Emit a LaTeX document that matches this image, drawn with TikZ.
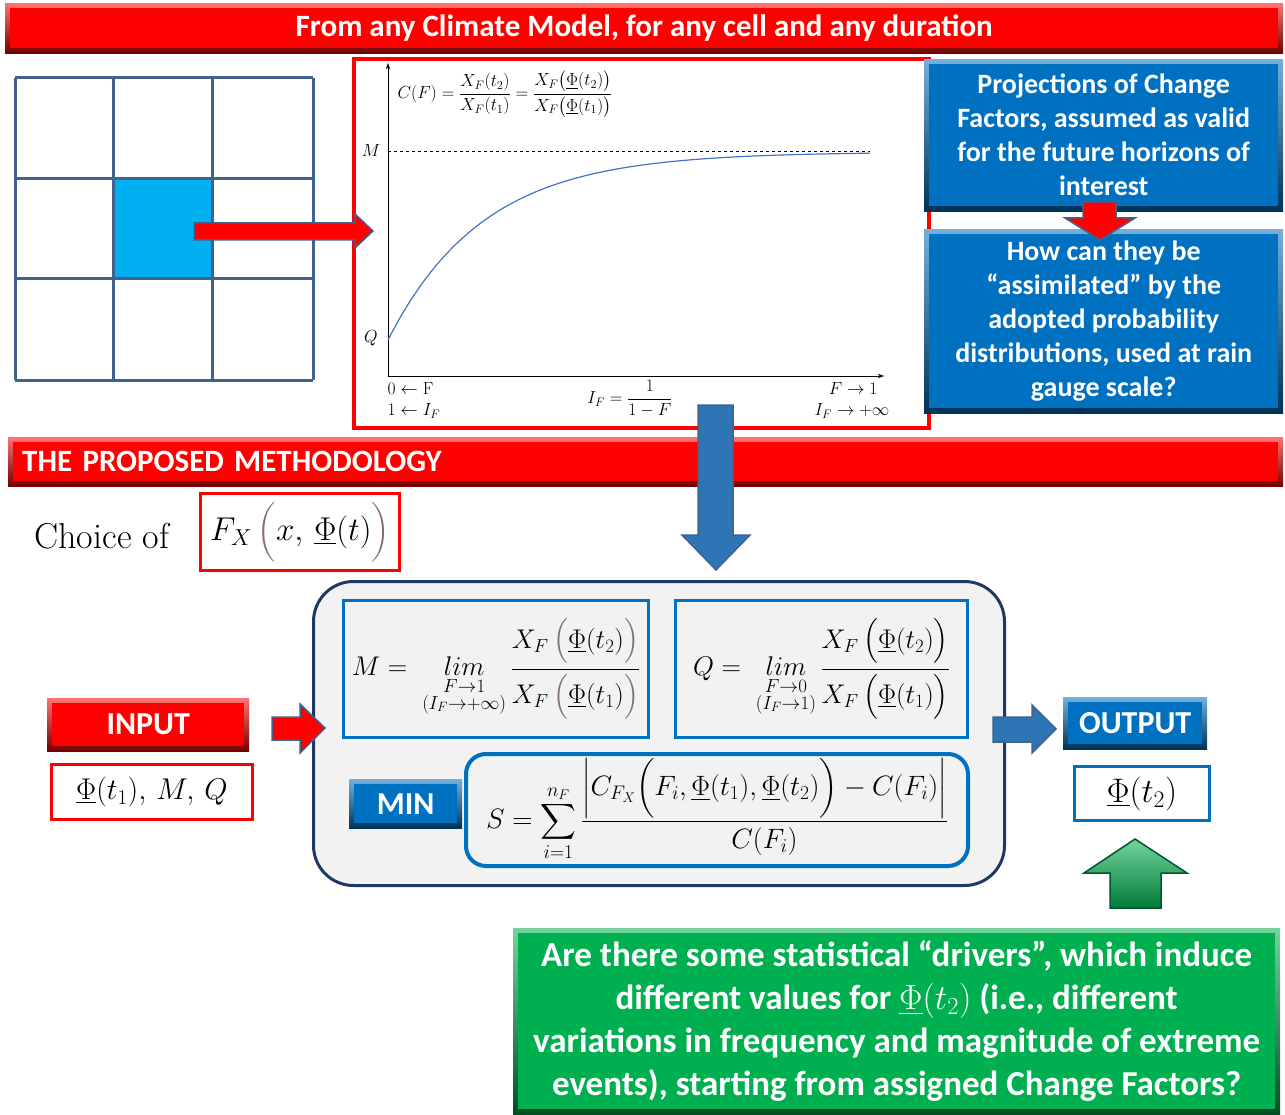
\RequirePackage{fix-cm}
\documentclass[tikz,border=0pt]{standalone}
\usepackage{fontspec}
\usepackage{amsmath}
\setsansfont{Carlito}
\usetikzlibrary{arrows.meta}
\definecolor{mred}{HTML}{FF0000}
\definecolor{mblue}{HTML}{0070C0}
\definecolor{arrowblue}{HTML}{2E75B6}
\definecolor{mgreen}{HTML}{00B050}
\definecolor{gridline}{HTML}{41628F}
\definecolor{cellcyan}{HTML}{00B0F0}
\definecolor{navy}{HTML}{203864}
\definecolor{panelgray}{HTML}{F2F2F2}
\definecolor{parbrown}{HTML}{826E6A}
\definecolor{curveblue}{HTML}{4472C4}
\newcommand{\bPhi}{{\color{parbrown}\underline{\color{black}\Phi}}}
\newcommand{\bpar}[1]{\textcolor{parbrown}{#1}}
\tikzset{
  bevel/.style={draw=none, inner sep=0, top color=#1!55!white, bottom color=#1!45!black,
    path picture={\fill[#1] ([shift={(5pt,-5pt)}]path picture bounding box.north west)
      rectangle ([shift={(-5pt,5pt)}]path picture bounding box.south east);}},
  headfont/.style={font=\sffamily\bfseries\fontsize{31}{34}\selectfont, text=white},
  boxfont/.style={font=\sffamily\bfseries\fontsize{28}{34}\selectfont, text=white, align=center},
  btnfont/.style={font=\sffamily\bfseries\fontsize{32}{34}\selectfont, text=white},
  chartfont/.style={font=\fontsize{17.5}{20}\selectfont},
  mathbox/.style={line width=3, inner sep=0, anchor=north west},
  arrowshape/.style={fill=#1, draw=gridline, line width=1.5},
}
\begin{document}
\begin{tikzpicture}[x=1pt, y=-1pt]
  \useasboundingbox (0,0) rectangle (1285,1115);
  % top banner
  \node[bevel=mred, headfont, anchor=north west, minimum width=1278, minimum height=50] (banner) at (5,3)
    {From any Climate Model, for any cell and any duration};
  % climate model grid
  \fill[cellcyan] (113,179) rectangle (212,279);
  \foreach \g in {15,113,212,313} \draw[gridline, line width=3] (\g,78) -- (\g,380);
  \foreach \g in {78,179,279,380} \draw[gridline, line width=3] (15,\g) -- (313,\g);
  % change factor curve
  \draw[mred, line width=4] (354,59) rectangle (929,428);
  \coordinate (O) at (388,376);
  \draw[-{Stealth[length=6pt, width=4pt]}] (O) -- (388,63);
  \draw[-{Stealth[length=6pt, width=4pt]}] (O) -- (884,376);
  \draw[dashed] (388,151) -- (870,151);
  \draw[curveblue, line width=1.2, domain=388:870, samples=80]
    plot (\x, {152+188*exp(-0.0105*(\x-388))});
  \node[chartfont] (lblM) at (371,151) {$M$};
  \node[chartfont] (lblQ) at (371,338) {$Q$};
  \node[chartfont, anchor=west] (cf) at (394,94)
    {$C(F)=\dfrac{X_F(t_2)}{X_F(t_1)}=\dfrac{X_F\bigl(\underline{\Phi}(t_2)\bigr)}{X_F\bigl(\underline{\Phi}(t_1)\bigr)}$};
  \node[chartfont, anchor=west] (lblF0) at (384,389) {$0\leftarrow\mathrm{F}$};
  \node[chartfont, anchor=west] (lblI1) at (384,411) {$1\leftarrow I_F$};
  \node[chartfont] (lblIF) at (630,399) {$I_F=\dfrac{1}{1-F}$};
  \node[chartfont, anchor=east] (lblF1) at (881,389) {$F\to1$};
  \node[chartfont, anchor=east] (lblIinf) at (893,411) {$I_F\to+\infty$};
  \draw[arrowshape=mred] (194,223) -- (355,223) -- (355,214) -- (373,231)
    -- (355,248) -- (355,240) -- (194,240) -- cycle;
  % questions
  \node[bevel=mblue, boxfont, anchor=north west, minimum width=359, minimum height=152] (proj) at (924,59)
    {Projections of Change\\Factors, assumed as valid\\for the future horizons of\\interest};
  \node[bevel=mblue, boxfont, anchor=north west, minimum width=359, minimum height=184] (assim) at (924,229)
    {How can they be\\“assimilated” by the\\adopted probability\\distributions, used at rain\\gauge scale?};
  \draw[arrowshape=mred] (1083,202) -- (1116,202) -- (1116,218) -- (1135,218)
    -- (1100,240) -- (1065,218) -- (1083,218) -- cycle;
  % methodology
  \node[bevel=mred, headfont, anchor=north west, minimum width=1275, minimum height=49,
    inner xsep=14, text width=1247, align=left] (method) at (8,437) {THE PROPOSED METHODOLOGY};
  \draw[arrowshape=arrowblue] (698,405) -- (733,405) -- (733,535) -- (750,535)
    -- (716,570) -- (682,535) -- (698,535) -- cycle;
  \node[anchor=west, font=\fontsize{36}{40}\selectfont] (choice) at (31,536) {Choice of};
  \node[mathbox, draw=mred, minimum width=199, minimum height=77, font=\fontsize{33}{36}\selectfont] (fx) at (199,492)
    {$F_X\,\bpar{\Bigl(}x,\,\bPhi(t)\bpar{\Bigr)}$};
  % optimisation panel
  \node[draw=navy, line width=3, fill=panelgray, rounded corners=40, anchor=north west,
    minimum width=691, minimum height=304] (panel) at (312,580) {};
  \node[mathbox, draw=mblue, minimum width=305, minimum height=137, font=\fontsize{27}{30}\selectfont] (mbox) at (342,599)
    {$\displaystyle M=\;\mathop{lim}\limits_{\substack{F\to1\\(I_F\to+\infty)}}
      \frac{X_F\,\bpar{\Bigl(}\bPhi(t_2)\bpar{\Bigr)}}{X_F\,\bpar{\Bigl(}\bPhi(t_1)\bpar{\Bigr)}}$};
  \node[mathbox, draw=mblue, minimum width=292, minimum height=137, font=\fontsize{27}{30}\selectfont] (qbox) at (674,599)
    {$\displaystyle Q=\;\mathop{lim}\limits_{\substack{F\to0\\(I_F\to1)}}
      \frac{X_F\,\Bigl(\underline{\Phi}(t_2)\Bigr)}{X_F\,\Bigl(\underline{\Phi}(t_1)\Bigr)}$};
  \node[bevel=mblue, btnfont, anchor=north west, minimum width=113, minimum height=49] (min) at (349,779) {MIN};
  \node[draw=mblue, line width=4, rounded corners=20, inner sep=0, anchor=north west,
    minimum width=502, minimum height=112, font=\fontsize{28}{30}\selectfont] (sbox) at (464,752)
    {$\displaystyle S=\sum_{i=1}^{n_F}\frac{\left|C_{F_X}\Bigl(F_i,\bPhi(t_1),\bPhi(t_2)\Bigr)-C(F_i)\right|}{C(F_i)}$};
  % input and output
  \node[bevel=mred, btnfont, anchor=north west, minimum width=202, minimum height=53] (input) at (47,698) {INPUT};
  \node[mathbox, draw=mred, fill=white, minimum width=201, minimum height=55, font=\fontsize{30}{34}\selectfont] (inval) at (50,763)
    {$\underline{\Phi}(t_1),\,M,\,Q$};
  \draw[arrowshape=mred] (272,717) -- (300,717) -- (300,704) -- (325,728)
    -- (300,753) -- (300,740) -- (272,740) -- cycle;
  \draw[arrowshape=arrowblue] (993,717) -- (1032,717) -- (1032,705) -- (1056,729)
    -- (1032,753) -- (1032,742) -- (993,742) -- cycle;
  \node[bevel=mblue, btnfont, anchor=north west, minimum width=144, minimum height=52] (output) at (1063,697) {OUTPUT};
  \node[mathbox, draw=mblue, fill=white, minimum width=135, minimum height=54, font=\fontsize{34}{36}\selectfont] (outval) at (1073,765)
    {$\underline{\Phi}(t_2)$};
  \draw[top color=mgreen!55!white, bottom color=mgreen!70!black, draw=mgreen!50!black, line width=1.5]
    (1110,908) -- (1110,873) -- (1084,873) -- (1135,839) -- (1187,873) -- (1161,873) -- (1161,908) -- cycle;
  % drivers question
  \node[bevel=mgreen, font=\sffamily\bfseries\fontsize{35}{43}\selectfont, text=white, align=center,
    anchor=north west, minimum width=767, minimum height=186] (drivers) at (513,928)
    {Are there some statistical “drivers”, which induce\\different values for $\underline{\Phi}(t_2)$ (i.e., different\\variations in frequency and magnitude of extreme\\events), starting from assigned Change Factors?};
\end{tikzpicture}
\end{document}
